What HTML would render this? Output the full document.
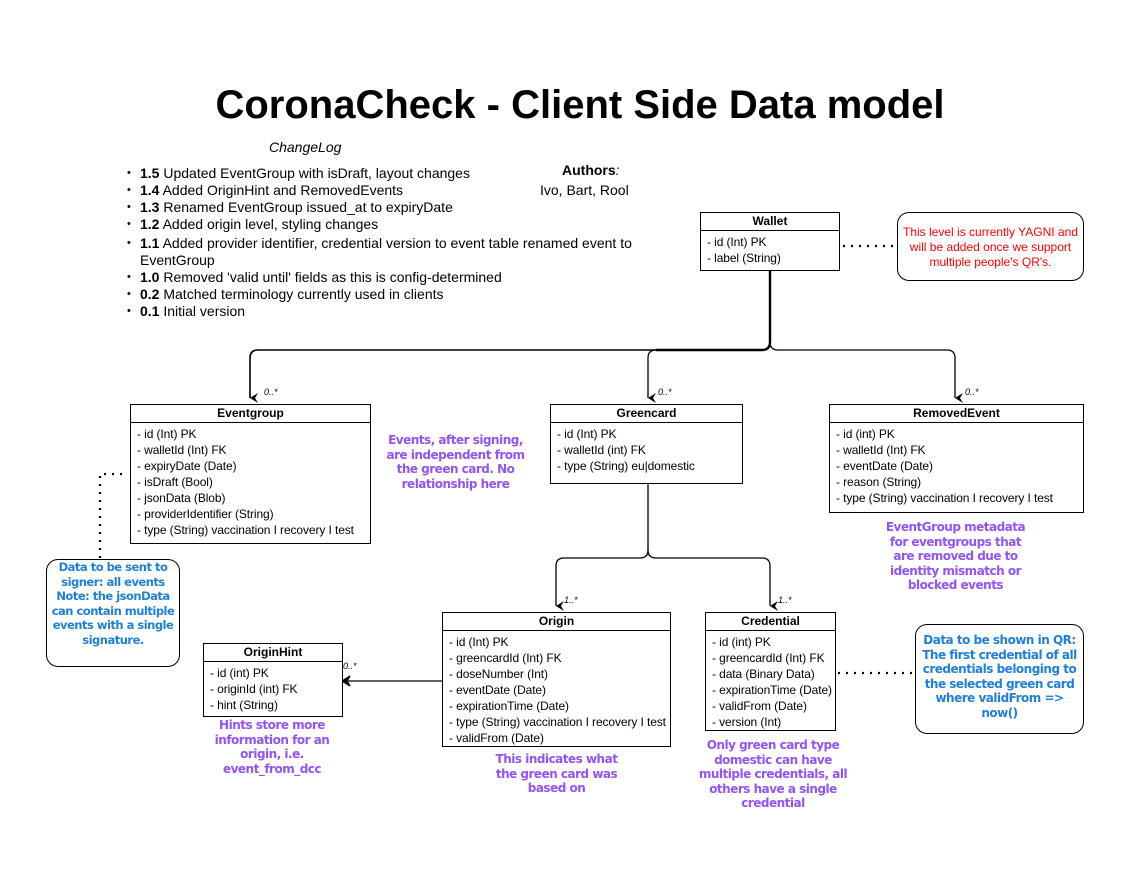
<!DOCTYPE html>
<html><head><meta charset="utf-8"><style>
body{margin:0;width:1140px;height:890px;background:#fff;position:relative;font-family:"Liberation Sans",Arial,sans-serif;overflow:hidden}
.a{position:absolute}
.box{position:absolute;border:1.3px solid #000;background:#fff;box-sizing:border-box;font-size:12px}
.box .h{font-weight:bold;text-align:center;border-bottom:1.3px solid #000;height:17px;line-height:16px}
.box .f{padding:3px 0 0 6px;line-height:16px;white-space:nowrap;letter-spacing:-0.1px}
.p{position:absolute;color:#9353f5;font-weight:bold;font-size:12px;text-align:center;line-height:14.5px;font-family:"DejaVu Sans","Liberation Sans",sans-serif;letter-spacing:-0.5px}
.note{position:absolute;border:1.3px solid #000;border-radius:12px;box-sizing:border-box;text-align:center;font-size:12px}
.b{color:#1f80d8;font-weight:bold;font-family:"DejaVu Sans","Liberation Sans",sans-serif;line-height:14.5px;letter-spacing:-0.5px}
ul{margin:0;padding:0;list-style:none}
li{position:relative;padding-left:13px;font-size:14px;line-height:17px}
li:before{content:"•";position:absolute;left:0;font-size:11px}
.m{position:absolute;font-size:9px;font-style:italic}
</style></head><body>
<div class="a" style="left:0;width:1160px;top:83px;text-align:center;font-size:40px;font-weight:bold">CoronaCheck - Client Side Data model</div>
<div class="a" style="left:269px;top:139px;font-size:14px;font-style:italic">ChangeLog</div>
<ul class="a" style="left:127px;top:165px;width:520px">
<li><b>1.5</b> Updated EventGroup with isDraft, layout changes</li>
<li><b>1.4</b> Added OriginHint and RemovedEvents</li>
<li><b>1.3</b> Renamed EventGroup issued_at to expiryDate</li>
<li><b>1.2</b> Added origin level, styling changes</li>
<li style="margin-top:2px"><b>1.1</b> Added provider identifier, credential version to event table renamed event to EventGroup</li>
<li><b>1.0</b> Removed 'valid until' fields as this is config-determined</li>
<li><b>0.2</b> Matched terminology currently used in clients</li>
<li><b>0.1</b> Initial version</li>
</ul>
<div class="a" style="left:562px;top:162px;font-size:14px;font-weight:bold">Authors<i style="font-weight:normal">:</i></div>
<div class="a" style="left:540px;top:182px;font-size:14px">Ivo, Bart, Rool</div>

<svg class="a" style="left:0;top:0" width="1140" height="890">
<defs><marker id="ar" markerWidth="10" markerHeight="10" refX="5" refY="8" orient="auto" markerUnits="userSpaceOnUse"><path d="M0,0 L5,8 L10,0 L5,3 Z" fill="#000"/></marker></defs>
<g fill="none" stroke="#000" stroke-width="1.3">
<path d="M770,270 V342 Q770,350 762,350 H656" stroke-width="2.4"/>
<path d="M656,350 H258 Q250,350 250,358 V398" stroke-width="1.6" marker-end="url(#ar)"/>
<path d="M770,342 Q770,350 762,350 H656 Q648,350 648,358 V398" marker-end="url(#ar)"/>
<path d="M770,342 Q770,350 778,350 H947 Q955,350 955,358 V398" marker-end="url(#ar)"/>
<path d="M648,483 V550 Q648,558 640,558 H564 Q556,558 556,566 V606" marker-end="url(#ar)"/>
<path d="M648,550 Q648,558 656,558 H762 Q770,558 770,566 V606" marker-end="url(#ar)"/>
<path d="M442,681 H348"/>
<path d="M350,676 L342,681 L350,686 L347,681 Z" fill="#000"/>
</g>
<g stroke="#000" stroke-width="2.2" stroke-dasharray="2,6" fill="none">
<path d="M843,246 H897"/>
<path d="M100,558 V474 H128"/>
<path d="M838,673 H915"/>
</g>
</svg>

<div class="box" style="left:700px;top:212px;width:140px;height:59px"><div class="h">Wallet</div><div class="f">- id (Int) PK<br>- label (String)</div></div>
<div class="note" style="left:897px;top:212px;width:187px;height:69px;color:#f00;padding-top:12px;line-height:15px">This level is currently YAGNI and will be added once we support multiple people's QR's.</div>

<div class="m" style="left:264px;top:387px">0..*</div>
<div class="m" style="left:658px;top:387px">0..*</div>
<div class="m" style="left:965px;top:387px">0..*</div>

<div class="box" style="left:130px;top:404px;width:241px;height:140px"><div class="h">Eventgroup</div><div class="f">- id (Int) PK<br>- walletId (Int) FK<br>- expiryDate (Date)<br>- isDraft (Bool)<br>- jsonData (Blob)<br>- providerIdentifier (String)<br>- type (String) vaccination I recovery I test</div></div>
<div class="box" style="left:550px;top:404px;width:193px;height:80px"><div class="h">Greencard</div><div class="f">- id (Int) PK<br>- walletId (int) FK<br>- type (String) eu|domestic</div></div>
<div class="box" style="left:829px;top:404px;width:255px;height:109px"><div class="h">RemovedEvent</div><div class="f">- id (int) PK<br>- walletId (Int) FK<br>- eventDate (Date)<br>- reason (String)<br>- type (String) vaccination I recovery I test</div></div>

<div class="p" style="left:378px;top:433px;width:155px">Events, after signing, are independent from the green card. No relationship here</div>
<div class="p" style="left:878px;top:520px;width:155px">EventGroup metadata for eventgroups that are removed due to identity mismatch or blocked events</div>

<div class="note b" style="left:46px;top:559px;width:134px;height:108px;padding:0 1px;font-size:11.5px">Data to be sent to signer: all events Note: the jsonData can contain multiple events with a single signature.</div>

<div class="m" style="left:564px;top:595px">1..*</div>
<div class="m" style="left:778px;top:595px">1..*</div>
<div class="m" style="left:343px;top:661px">0..*</div>

<div class="box" style="left:442px;top:612px;width:229px;height:135px"><div class="h">Origin</div><div class="f">- id (Int) PK<br>- greencardId (Int) FK<br>- doseNumber (Int)<br>- eventDate (Date)<br>- expirationTime (Date)<br>- type (String) vaccination I recovery I test<br>- validFrom (Date)</div></div>
<div class="box" style="left:705px;top:612px;width:131px;height:119px"><div class="h">Credential</div><div class="f">- id (int) PK<br>- greencardId (Int) FK<br>- data (Binary Data)<br>- expirationTime (Date)<br>- validFrom (Date)<br>- version (Int)</div></div>
<div class="box" style="left:203px;top:643px;width:140px;height:74px"><div class="h">OriginHint</div><div class="f">- id (int) PK<br>- originId (int) FK<br>- hint (String)</div></div>

<div class="p" style="left:202px;top:718px;width:140px">Hints store more information for an origin, i.e. event_from_dcc</div>
<div class="p" style="left:484px;top:752px;width:145px">This indicates what the green card was based on</div>
<div class="p" style="left:690px;top:738px;width:166px">Only green card type domestic can have multiple credentials, all others have a single credential</div>

<div class="note b" style="left:915px;top:624px;width:169px;height:110px;padding:8px 4px 0">Data to be shown in QR: The first credential of all credentials belonging to the selected green card where validFrom =&gt; now()</div>
</body></html>
